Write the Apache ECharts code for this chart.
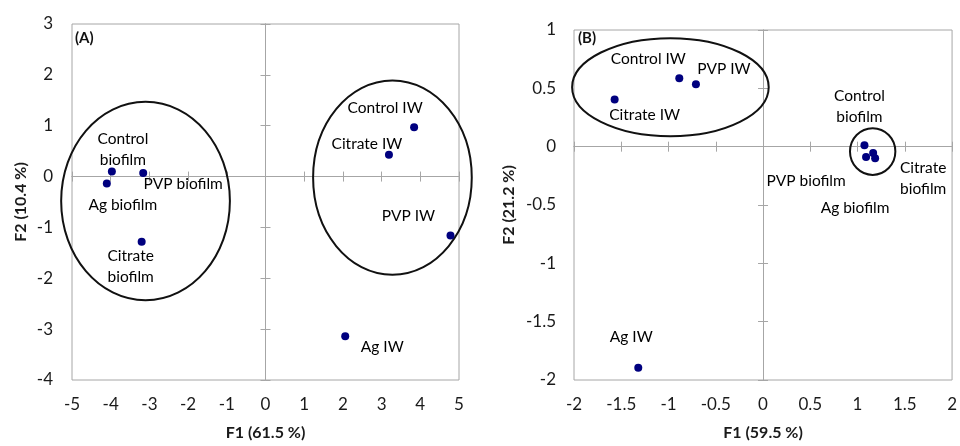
<!DOCTYPE html>
<html><head><meta charset="utf-8">
<script src="https://cdn.jsdelivr.net/npm/echarts@6/dist/echarts.min.js"></script>
<style>html,body{margin:0;padding:0;background:#fff}#c{width:960px;height:446px}</style>
</head><body><div id="c"></div>
<script>
// ---- Panel A data ----
const namesA = ['Control\nbiofilm','PVP biofilm','Ag biofilm','Citrate\nbiofilm','Control IW','Citrate IW','PVP IW','Ag IW'];
const f1A = [-3.97,-3.16,-4.10,-3.20,3.84,3.19,4.78,2.06];
const f2A = [0.10,0.07,-0.135,-1.28,0.97,0.43,-1.16,-3.14];
// ellipses A: [cx, cy, rx, ry] in data units
const ellipsesA = [[-3.10,-0.48,2.18,1.95],[3.28,-0.02,2.05,1.91]];
const xTicksA = {min:-5,max:5,interval:1};
const yTicksA = {min:-4,max:3,interval:1};

// ---- Panel B data ----
const namesB = ['Control IW','PVP IW','Citrate IW','Ag IW','Control\nbiofilm','Ag biofilm','PVP biofilm','Citrate\nbiofilm'];
const f1B = [-0.886,-0.71,-1.57,-1.32,1.073,1.09,1.165,1.186];
const f2B = [0.587,0.535,0.405,-1.895,0.012,-0.088,-0.054,-0.10];
const ellipsesB = [[-0.98,0.51,1.04,0.42],[1.16,-0.042,0.24,0.20]];
const xTicksB = {min:-2,max:2,interval:0.5};
const yTicksB = {min:-2,max:1,interval:0.5};

// label placement (pixel offsets from point to label centre)
const labelOffA = {'Control\nbiofilm':[11,-22],'PVP biofilm':[40,11],'Ag biofilm':[16,22],'Citrate\nbiofilm':[-11,25],
  'Control IW':[-29,-19],'Citrate IW':[-22,-11],'PVP IW':[-42,-20],'Ag IW':[37,11]};
const labelOffB = {'Control IW':[-31,-19],'PVP IW':[28,-15],'Citrate IW':[30,16],'Ag IW':[-7,-31],
  'Control\nbiofilm':[-5,-39],'PVP biofilm':[-67,28],'Ag biofilm':[-11,51],'Citrate\nbiofilm':[48,20]};

const FONT = 'Lato, "Open Sans", sans-serif';
const GRAY = '#a6a6a6';

function axesFor(dim, gridIndex, ticks, name, nameGap, labelMargin) {
  const base = {type:'value', gridIndex, min:ticks.min, max:ticks.max, interval:ticks.interval, splitLine:{show:false}};
  const labelAxis = Object.assign({}, base, {
    position: dim==='x' ? 'bottom' : 'left',
    axisLine:{show:false,onZero:false}, axisTick:{show:false},
    axisLabel:{margin:labelMargin, color:'#1a1a1a', fontFamily:FONT, fontSize:17},
    name, nameLocation:'middle', nameGap,
    nameTextStyle:{fontFamily:FONT, fontWeight:'bold', fontSize:16, color:'#1a1a1a'}
  });
  const z1 = Object.assign({}, base, {position: dim==='x'?'bottom':'left',
    axisLine:{show:true,onZero:true,lineStyle:{color:GRAY,width:1}},
    axisTick:{show:true,inside:true,length:5,lineStyle:{color:GRAY}}, axisLabel:{show:false}});
  const z2 = Object.assign({}, base, {position: dim==='x'?'bottom':'left',
    axisLine:{show:true,onZero:true,lineStyle:{color:GRAY,width:1}},
    axisTick:{show:true,inside:false,length:5,lineStyle:{color:GRAY}}, axisLabel:{show:false}});
  return [labelAxis, z1, z2];
}

function pointSeries(names, xs, ys, offs, xi, yi) {
  return {
    type:'scatter', xAxisIndex:xi, yAxisIndex:yi, symbolSize:8, z:5,
    itemStyle:{color:'#00007f', opacity:1},
    data: names.map((n,i)=>({name:n, value:[xs[i],ys[i]],
      label:{show:true, position:'inside', offset:offs[n], formatter:n,
        color:'#000', fontFamily:FONT, fontSize:15.5, lineHeight:21}})),
    emphasis:{disabled:true}
  };
}

function ellipseSeries(ells, xi, yi) {
  return {
    type:'custom', xAxisIndex:xi, yAxisIndex:yi, clip:false, z:4, silent:true,
    data: ells,
    renderItem(params, api) {
      const c = api.coord([api.value(0), api.value(1)]);
      const s = api.size([api.value(2), api.value(3)]);
      return {type:'ellipse', shape:{cx:c[0], cy:c[1], rx:s[0], ry:s[1]},
        style:{fill:'none', stroke:'#111', lineWidth:2}};
    }
  };
}

const chart = echarts.init(document.getElementById('c'), null, {renderer:'canvas'});
chart.setOption({
  animation:false,
  title:[
    {text:'(A)', left:75, top:31, padding:0, textStyle:{fontFamily:FONT, fontWeight:'bold', fontSize:15, color:'#111'}},
    {text:'(B)', left:578, top:31, padding:0, textStyle:{fontFamily:FONT, fontWeight:'bold', fontSize:15, color:'#111'}}
  ],
  grid:[
    {left:72, top:24, width:387, height:358, show:true, borderColor:GRAY, borderWidth:1, containLabel:false},
    {left:574, top:30, width:379, height:352, show:true, borderColor:GRAY, borderWidth:1, containLabel:false}
  ],
  xAxis:[
    ...axesFor('x',0,xTicksA,'F1 (61.5 %)',45,16),
    ...axesFor('x',1,xTicksB,'F1 (59.5 %)',45,16)
  ],
  yAxis:[
    ...axesFor('y',0,yTicksA,'F2 (10.4 %)',43,19),
    ...axesFor('y',1,yTicksB,'F2 (21.2 %)',57,18)
  ],
  series:[
    ellipseSeries(ellipsesA,0,0),
    pointSeries(namesA,f1A,f2A,labelOffA,0,0),
    ellipseSeries(ellipsesB,3,3),
    pointSeries(namesB,f1B,f2B,labelOffB,3,3)
  ]
});
</script></body></html>
